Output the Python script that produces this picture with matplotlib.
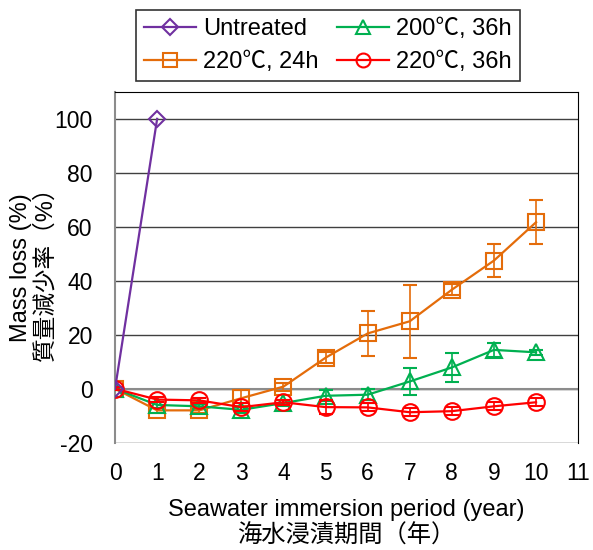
import numpy as np
import matplotlib.pyplot as plt
from matplotlib.lines import Line2D

plt.rcParams['font.family'] = ['Liberation Sans', 'Noto Sans CJK JP', 'DejaVu Sans']
plt.rcParams['axes.unicode_minus'] = False

# seawater immersion data (mass loss %)
years_untreated = [0, 1]
loss_untreated = [0, 100]

years = np.arange(0, 11)
loss_220_24 = [0, -8, -8, -3.5, 0.8, 11.5, 20.5, 25, 36.7, 47.5, 61.7]
err_220_24 = [0.5, 1, 1, 3, 1.5, 2, 8.2, 13.6, 2, 6, 8.2]
loss_200_36 = [0, -6, -6.5, -7.8, -5.3, -2.6, -2.2, 2.7, 7.9, 14.4, 13.5]
err_200_36 = [0.5, 1, 1, 1, 1, 2, 2, 5, 5.5, 2.5, 1]
loss_220_36 = [0, -4, -4.3, -6.8, -5, -6.8, -6.9, -8.7, -8.3, -6.5, -5]
err_220_36 = [0.5, 1, 1, 1.5, 1, 2.5, 1.5, 1.5, 1.5, 1.5, 1.5]

c_untr, c_24, c_200, c_36 = '#7030A0', '#E46C0A', '#00B050', '#FF0000'

fig = plt.figure(figsize=(5.93, 5.5), dpi=100)
ax = fig.add_axes([0.194, 0.195, 0.781, 0.638])

ax.set_xlim(0, 11)
ax.set_ylim(-20, 110)
ax.set_xticks(range(0, 12))
ax.set_yticks(range(-20, 101, 20))
ax.yaxis.grid(True, color='#404040', lw=1.0)
ax.set_axisbelow(True)
ax.axhline(0, color='#8c8c8c', lw=1.5, zorder=1)
ax.tick_params(length=0, labelsize=16.5)
ax.tick_params(axis='y', pad=16)
ax.tick_params(axis='x', pad=14)
ax.spines['left'].set_color('#8c8c8c')
ax.spines['left'].set_linewidth(1.5)
ax.spines['bottom'].set_visible(False)

kw = dict(mfc='none', mew=1.5, lw=1.6, capsize=5, elinewidth=1.2, capthick=1.2)
ax.plot(years_untreated, loss_untreated, marker='D', color=c_untr, ms=8,
        mfc='none', mew=1.5, lw=1.6, zorder=5)
ax.errorbar(years, loss_220_24, yerr=err_220_24, marker='s', ms=11, color=c_24,
            zorder=3, **kw)
ax.errorbar(years, loss_200_36, yerr=err_200_36, marker='^', ms=11, color=c_200,
            zorder=3, **kw)
ax.errorbar(years, loss_220_36, yerr=err_220_36, marker='o', ms=12, color=c_36,
            zorder=4, **kw)

# legend handles without error bars
handles = [
    Line2D([], [], color=c_untr, marker='D', ms=8, mfc='none', mew=1.5, lw=1.6),
    Line2D([], [], color=c_24, marker='s', ms=10, mfc='none', mew=1.5, lw=1.6),
    Line2D([], [], color=c_200, marker='^', ms=10, mfc='none', mew=1.5, lw=1.6),
    Line2D([], [], color=c_36, marker='o', ms=10, mfc='none', mew=1.5, lw=1.6),
]
labels = ['Untreated', '220\u2103, 24h', '200\u2103, 36h', '220\u2103, 36h']
leg = fig.legend(handles, labels, ncol=2, loc='upper center',
                 bbox_to_anchor=(0.553, 0.982), fontsize=17,
                 frameon=True, fancybox=False, edgecolor='black',
                 handlelength=2.2, columnspacing=0.8, handletextpad=0.3,
                 labelspacing=0.45, borderpad=0.35, borderaxespad=0)
leg.get_frame().set_linewidth(1.2)

# two-line axis titles (English / Japanese)
fig.text(0.035, 0.195 + 0.638 / 2, 'Mass loss (%)', rotation=90,
         ha='center', va='center', fontsize=17)
fig.text(0.077, 0.195 + 0.638 / 2, '質量減少率（%）', rotation=90,
         ha='center', va='center', fontsize=17)
fig.text(0.194 + 0.781 / 2, 0.073, 'Seawater immersion period (year)',
         ha='center', va='center', fontsize=17)
fig.text(0.194 + 0.781 / 2, 0.026, '海水浸漬期間（年）',
         ha='center', va='center', fontsize=17.5)

fig.savefig('out.png', dpi=100)
